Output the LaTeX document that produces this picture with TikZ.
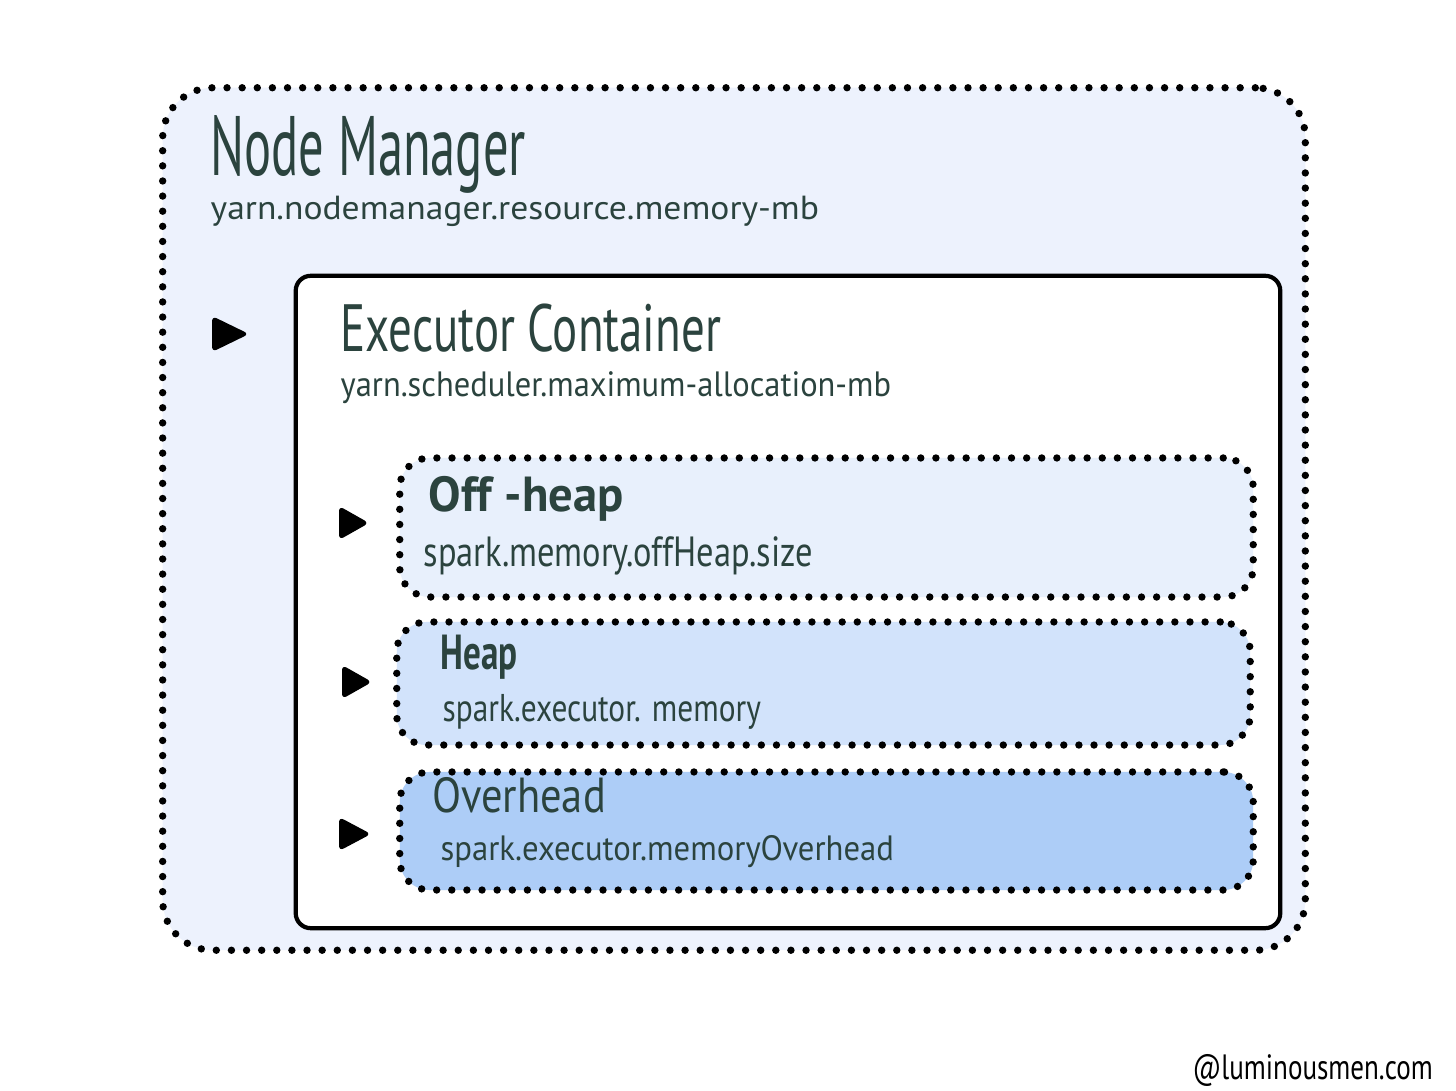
\documentclass[tikz,border=0pt]{standalone}
\usepackage{fontspec}
\setmainfont{PT Sans}
\usepackage{graphicx}
\usetikzlibrary{positioning}

\definecolor{handink}{HTML}{2B433E}
\definecolor{nmfill}{HTML}{EDF2FD}
\definecolor{offfill}{HTML}{E8F0FC}
\definecolor{heapfill}{HTML}{D2E3FB}
\definecolor{ovhfill}{HTML}{ADCDF7}

\newcommand{\handtext}[3]{\resizebox{#1}{\height}{\fontsize{#2}{#2}\selectfont #3}}

\tikzset{
  dotbox/.style={draw=black, line width=2.1pt, dash pattern=on 0pt off 4.3pt,
    line cap=round, rounded corners=0.3cm, inner sep=0pt},
  container/.style={draw=black, line width=1.2pt, fill=white,
    rounded corners=0.15cm, inner sep=0pt},
  marker/.style={fill=black, rounded corners=1.5pt},
  label/.style={anchor=base west, inner sep=0pt, text=handink}
}

\begin{document}
\begin{tikzpicture}[x=0.01cm,y=-0.01cm]
\useasboundingbox (0,0) rectangle (1456,1091);

\node[dotbox,fill=nmfill,rounded corners=0.5cm,minimum width=11.42cm,minimum height=8.62cm] (nm) at (734,519) {};
\node[container,minimum width=9.84cm,minimum height=6.52cm] (ec) at (788,602) {};
\node[dotbox,fill=offfill,minimum width=8.53cm,minimum height=1.39cm] (off) at (826.5,527.5) {};
\node[dotbox,fill=heapfill,minimum width=8.53cm,minimum height=1.23cm] (heap) at (823.5,683.5) {};
\node[dotbox,fill=ovhfill,minimum width=8.53cm,minimum height=1.18cm] (ovh) at (826.5,831) {};

\fill[marker] (212,316) -- (249,334) -- (212,352) -- cycle;
\fill[marker] (339,506) -- (369,523) -- (339,540) -- cycle;
\fill[marker] (342,665) -- (372,682) -- (342,699) -- cycle;
\fill[marker] (339,817) -- (371,834) -- (339,851) -- cycle;

\node[label] (nmtitle) at (210,176) {\handtext{3.15cm}{24pt}{Node Manager}};
\node[label] (nmprop) at (210,220) {\handtext{6.08cm}{9.5pt}{yarn.nodemanager.resource.memory-mb}};
\node[label] (ectitle) at (340,352) {\handtext{3.8cm}{19pt}{Executor Container}};
\node[label] (ecprop) at (340,397) {\handtext{5.5cm}{10pt}{yarn.scheduler.maximum-allocation-mb}};
\node[label] (offtitle) at (428,512) {\handtext{1.95cm}{14pt}{\bfseries Off -heap}};
\node[label] (offprop) at (423,567) {\handtext{3.89cm}{12pt}{spark.memory.offHeap.size}};
\node[label] (heaptitle) at (440,670) {\handtext{0.77cm}{14pt}{\bfseries Heap}};
\node[label] (heapprop) at (442,722) {\handtext{3.18cm}{11pt}{spark.executor. memory}};
\node[label] (ovhtitle) at (432,813) {\handtext{1.73cm}{14pt}{Overhead}};
\node[label] (ovhprop) at (440,860) {\handtext{4.53cm}{10pt}{spark.executor.memoryOverhead}};
\node[label,text=black] (credit) at (1192,1080) {\handtext{2.4cm}{10pt}{@luminousmen.com}};

\end{tikzpicture}
\end{document}
